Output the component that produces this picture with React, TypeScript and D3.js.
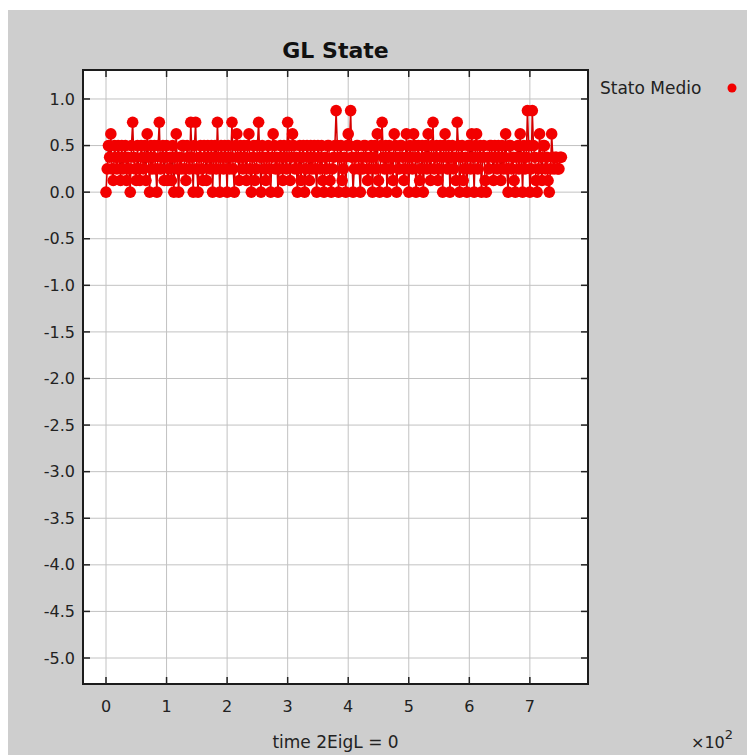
import React, { useEffect, useRef } from 'react';
import * as d3 from 'd3';

const chartTitle = 'GL State';
const xAxisLabel = 'time 2EigL = 0';
const seriesName = 'Stato Medio';

// one sample every 2 time units, starting at 0
const timeStep = 2;
const statoMedio = [
  0, 0.25, 0.5, 0.375, 0.625, 0.25, 0.125, 0.5, 0.375, 0.25, 0.5, 0.375, 0.125, 0.5, 0.25, 0.375, 0.5, 0.125, 0.375, 0.25,
  0, 0.5, 0.75, 0.375, 0.25, 0.125, 0.5, 0.25, 0.125, 0.5, 0.375, 0.25, 0.5, 0.125, 0.625, 0.375, 0, 0.5, 0.25, 0.375,
  0.5, 0.25, 0, 0.5, 0.75, 0.25, 0.375, 0.5, 0.125, 0.375, 0.5, 0.125, 0.25, 0.375, 0.125, 0.5, 0, 0.375, 0.625, 0.25,
  0, 0.375, 0.25, 0.5, 0.5, 0.25, 0.125, 0.5, 0.375, 0.25, 0.75, 0.375, 0, 0.5, 0.75, 0.25, 0, 0.375, 0.5, 0.25,
  0.125, 0.5, 0.375, 0.125, 0.5, 0.375, 0.25, 0.5, 0, 0.375, 0.5, 0.25, 0.75, 0.375, 0, 0.5, 0.375, 0.25, 0.5, 0.375,
  0, 0.5, 0.25, 0.375, 0.75, 0.25, 0, 0.5, 0.625, 0.375, 0.125, 0.5, 0.375, 0.25, 0.5, 0.375, 0.125, 0.5, 0.625, 0.25,
  0, 0.375, 0.5, 0.125, 0.25, 0.5, 0.75, 0.375, 0, 0.5, 0.375, 0.25, 0.125, 0.375, 0.5, 0.25, 0, 0.375, 0.625, 0.5,
  0.25, 0.375, 0, 0.25, 0.5, 0.375, 0.125, 0.5, 0.375, 0.25, 0.75, 0.5, 0.125, 0.375, 0.625, 0.5, 0.25, 0.375, 0, 0.25,
  0.5, 0.125, 0.375, 0.5, 0, 0.25, 0.5, 0.375, 0.125, 0.5, 0.25, 0.375, 0.5, 0.25, 0, 0.5, 0.375, 0.25, 0.5, 0.125,
  0, 0.375, 0.25, 0.5, 0.5, 0.125, 0, 0.25, 0.375, 0.5, 0.875, 0.5, 0, 0.375, 0.5, 0.125, 0.25, 0.375, 0, 0.5,
  0.625, 0.5, 0.875, 0.375, 0, 0.25, 0.375, 0.5, 0.5, 0.25, 0, 0.375, 0.25, 0.5, 0.5, 0.375, 0.125, 0.25, 0.375, 0.5,
  0, 0.375, 0.5, 0.25, 0.625, 0.125, 0, 0.5, 0.75, 0.375, 0.25, 0.5, 0, 0.375, 0.5, 0.25, 0.375, 0.125, 0.625, 0.5,
  0, 0.375, 0.25, 0.5, 0.5, 0.375, 0.125, 0.25, 0.625, 0.375, 0, 0.5, 0.375, 0.25, 0.625, 0.5, 0, 0.375, 0.5, 0.125,
  0.25, 0.5, 0, 0.375, 0.5, 0.25, 0.625, 0.375, 0.125, 0.5, 0.75, 0.25, 0.375, 0.5, 0.125, 0.25, 0.5, 0.375, 0, 0.5,
  0.625, 0.375, 0.25, 0.5, 0, 0.375, 0.5, 0.25, 0.375, 0.125, 0.75, 0.5, 0, 0.375, 0.5, 0.125, 0.25, 0.375, 0, 0.5,
  0.5, 0.25, 0.625, 0.375, 0, 0.5, 0.625, 0.25, 0.375, 0.5, 0, 0.375, 0.5, 0.125, 0, 0.375, 0.25, 0.5, 0.5, 0.375,
  0.125, 0.5, 0.375, 0.25, 0.5, 0.375, 0.125, 0.5, 0.25, 0.375, 0.625, 0.25, 0, 0.5, 0.5, 0.25, 0.375, 0.125, 0, 0.375,
  0.5, 0.25, 0.625, 0.375, 0, 0.5, 0.25, 0.375, 0.875, 0.5, 0, 0.25, 0.875, 0.5, 0.375, 0.125, 0, 0.25, 0.625, 0.375,
  0.125, 0.5, 0.5, 0.25, 0.375, 0.125, 0, 0.25, 0.625, 0.375, 0.25, 0.375, 0.375, 0.25, 0.25, 0.375, 0.375,
];

const xTicks = [0, 100, 200, 300, 400, 500, 600, 700];
const yTicks = [1.0, 0.5, 0.0, -0.5, -1.0, -1.5, -2.0, -2.5, -3.0, -3.5, -4.0, -4.5, -5.0];

const App = () => {
  const svgRef = useRef<SVGSVGElement>(null);

  useEffect(() => {
    const svg = d3.select(svgRef.current);
    svg.selectAll('*').remove();

    const W = 747, H = 755;
    const plot = { left: 83, top: 70, right: 588, bottom: 684 };
    const font = "'DejaVu Sans', sans-serif";
    const red = '#f20000';

    const x = d3.scaleLinear().domain([-38, 796]).range([plot.left, plot.right]);
    const y = d3.scaleLinear().domain([-5.279, 1.311]).range([plot.bottom, plot.top]);

    svg.attr('width', W).attr('height', H);

    // panel background
    svg.append('rect').attr('width', W).attr('height', H).attr('fill', '#fff');
    svg.append('rect').attr('x', 8).attr('y', 10).attr('width', W - 8).attr('height', H - 10).attr('fill', '#cecece');
    svg.append('rect')
      .attr('x', plot.left).attr('y', plot.top)
      .attr('width', plot.right - plot.left).attr('height', plot.bottom - plot.top)
      .attr('fill', '#fff');

    // grid
    const grid = svg.append('g').attr('stroke', '#c2c2c2').attr('stroke-width', 1);
    grid.selectAll('.gx').data(xTicks).enter().append('line')
      .attr('x1', d => x(d)).attr('x2', d => x(d))
      .attr('y1', plot.top).attr('y2', plot.bottom);
    grid.selectAll('.gy').data(yTicks).enter().append('line')
      .attr('x1', plot.left).attr('x2', plot.right)
      .attr('y1', d => y(d)).attr('y2', d => y(d));

    // series
    svg.append('clipPath').attr('id', 'plot-clip').append('rect')
      .attr('x', plot.left).attr('y', plot.top)
      .attr('width', plot.right - plot.left).attr('height', plot.bottom - plot.top);
    const series = svg.append('g').attr('clip-path', 'url(#plot-clip)');
    const pts = statoMedio.map((v, i) => [i * timeStep, v] as [number, number]);
    const line = d3.line<[number, number]>().x(d => x(d[0])).y(d => y(d[1]));
    series.append('path').datum(pts)
      .attr('d', line)
      .attr('fill', 'none')
      .attr('stroke', '#d40000')
      .attr('stroke-width', 1.5);
    series.selectAll('circle').data(pts).enter().append('circle')
      .attr('cx', d => x(d[0])).attr('cy', d => y(d[1]))
      .attr('r', 5.8)
      .attr('fill', red);

    // frame and inward ticks
    svg.append('rect')
      .attr('x', plot.left).attr('y', plot.top)
      .attr('width', plot.right - plot.left).attr('height', plot.bottom - plot.top)
      .attr('fill', 'none').attr('stroke', '#1c1c1c').attr('stroke-width', 2);
    const ticks = svg.append('g').attr('stroke', '#222').attr('stroke-width', 1.5);
    const tl = 7;
    xTicks.forEach(t => {
      ticks.append('line').attr('x1', x(t)).attr('x2', x(t)).attr('y1', plot.bottom).attr('y2', plot.bottom - tl);
      ticks.append('line').attr('x1', x(t)).attr('x2', x(t)).attr('y1', plot.top).attr('y2', plot.top + tl);
    });
    yTicks.forEach(t => {
      ticks.append('line').attr('x1', plot.left).attr('x2', plot.left + tl).attr('y1', y(t)).attr('y2', y(t));
      ticks.append('line').attr('x1', plot.right).attr('x2', plot.right - tl).attr('y1', y(t)).attr('y2', y(t));
    });

    // tick labels
    const labels = svg.append('g').attr('font-family', font).attr('font-size', 16).attr('fill', '#222');
    labels.selectAll('.yl').data(yTicks).enter().append('text')
      .attr('x', 75).attr('y', d => y(d)).attr('dy', '0.35em')
      .attr('text-anchor', 'end')
      .text(d => d3.format('.1f')(d).replace('−', '-'));
    labels.selectAll('.xl').data(xTicks).enter().append('text')
      .attr('x', d => x(d)).attr('y', 712)
      .attr('text-anchor', 'middle')
      .text(d => String(d / 100));

    // title
    svg.append('text')
      .attr('x', (plot.left + plot.right) / 2).attr('y', 58)
      .attr('text-anchor', 'middle')
      .attr('font-family', font).attr('font-size', 22).attr('font-weight', 'bold')
      .attr('fill', '#111')
      .text(chartTitle);

    // x axis label and multiplier
    svg.append('text')
      .attr('x', (plot.left + plot.right) / 2).attr('y', 748)
      .attr('text-anchor', 'middle')
      .attr('font-family', font).attr('font-size', 17).attr('fill', '#222')
      .text(xAxisLabel);
    const mult = svg.append('text')
      .attr('x', 691).attr('y', 748)
      .attr('font-family', font).attr('font-size', 16).attr('fill', '#222');
    mult.append('tspan').text('×10');
    mult.append('tspan').attr('dy', -9).attr('font-size', 13).text('2');

    // legend
    svg.append('text')
      .attr('x', 600).attr('y', 94)
      .attr('font-family', font).attr('font-size', 17).attr('fill', '#222')
      .text(seriesName);
    svg.append('circle').attr('cx', 732).attr('cy', 88).attr('r', 4.5).attr('fill', red);
  }, []);

  return (
    <svg ref={svgRef} style={{ position: 'absolute', left: 0, top: 0, display: 'block' }}></svg>
  );
};

export default App;
